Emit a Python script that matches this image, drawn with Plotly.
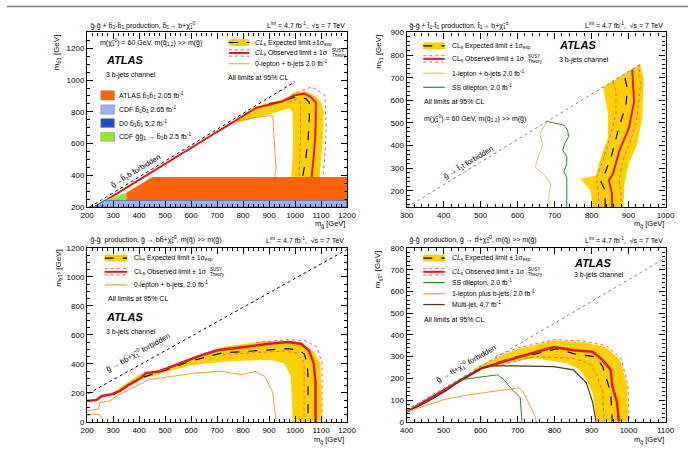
import plotly.graph_objects as go

W, H = 697, 449
FONT = "Liberation Sans"

# ---------------- data: panel 1 (sbottom) ----------------
p1_diag_x = [210, 1000]
p1_diag_y = [200, 990]
p1_obs_x = [230, 300, 400, 500, 600, 700, 770, 800, 850, 900, 950, 1000, 1035, 1060, 1080, 1080, 1078, 1072, 1066, 1063]
p1_obs_y = [200, 270, 370, 470, 570, 670, 740, 770, 825, 845, 865, 905, 915, 895, 860, 780, 650, 520, 420, 380]
p1_exp_x = [900, 950, 990, 1010, 1040, 1055, 1055, 1050, 1040, 1030, 1028]
p1_exp_y = [850, 868, 888, 895, 885, 860, 760, 620, 490, 400, 380]
p1_band_out_x = [770, 850, 900, 960, 1000, 1040, 1075, 1100, 1110, 1108, 1100, 1095]
p1_band_out_y = [745, 835, 857, 882, 925, 930, 905, 860, 800, 650, 500, 380]
p1_band_in_x = [770, 896, 978, 990, 992, 990, 985]
p1_band_in_y = [729, 781, 822, 800, 650, 500, 380]
p1_up_x = [985, 1010, 1065, 1115, 1120, 1115, 1107]
p1_up_y = [905, 926, 957, 905, 700, 520, 380]
p1_lo_x = [975, 1005, 1020, 1022, 1020, 1017, 1015]
p1_lo_y = [860, 880, 860, 750, 600, 470, 380]
p1_zl_x = [700, 770, 800, 850, 900, 915, 917, 920, 925, 927, 922, 925]
p1_zl_y = [668, 737, 750, 765, 775, 772, 700, 600, 480, 430, 405, 380]
p1_atlas_x = [351, 351, 451, 1200, 1200]
p1_atlas_y = [245, 290, 390, 390, 245]
p1_cdf_x = [225, 270, 1200, 1200]
p1_cdf_y = [200, 245, 245, 200]
p1_cdfgg_x = [270, 351, 351]
p1_cdfgg_y = [245, 245, 290]

# ---------------- data: panel 2 (stop) ----------------
p2_diag_x = [301, 935]
p2_diag_y = [128, 762]
p2_band_l_x = [803, 797, 769, 813, 822, 844, 844, 831, 932]
p2_band_l_y = [128, 203, 254, 268, 333, 434, 550, 658, 759]
p2_band_r_x = [941, 937, 923, 900, 889, 886]
p2_band_r_y = [694, 521, 405, 319, 232, 128]
p2_obs_x = [856, 855, 847, 858, 875, 901, 915, 910]
p2_obs_y = [128, 189, 247, 275, 377, 478, 593, 735]
p2_exp_x = [837, 836, 824, 832, 853, 871, 893, 897, 888]
p2_exp_y = [128, 203, 246, 261, 348, 463, 579, 651, 715]
p2_lo_x = [820, 818, 813, 832, 850, 866, 866, 858]
p2_lo_y = [128, 200, 258, 340, 440, 540, 640, 685]
p2_up_x = [881, 880, 874, 885, 906, 923, 932, 929]
p2_up_y = [128, 189, 247, 333, 420, 521, 666, 756]
p2_ol_x = [685, 685, 690, 672, 648, 655, 668, 660, 678]
p2_ol_y = [128, 180, 230, 270, 304, 350, 400, 450, 505]
p2_ss_x = [733, 733, 725, 733, 733, 722, 728, 738, 735, 725, 680]
p2_ss_y = [128, 260, 285, 320, 350, 380, 410, 440, 470, 490, 507]

# ---------------- data: panel 3 (gluino -> bb chi) ----------------
p3_diag_x = [205, 1200]
p3_diag_y = [195, 1190]
p3_obs_x = [200, 237, 256, 293, 325, 362, 407, 425, 476, 526, 576, 640, 702, 770, 846, 900, 972, 1022, 1053, 1072, 1079, 1079]
p3_obs_y = [144, 151, 178, 189, 212, 257, 302, 336, 347, 381, 415, 460, 494, 510, 528, 538, 550, 539, 494, 403, 268, 0]
p3_exp_x = [300, 400, 500, 600, 720, 846, 972, 1010, 1035, 1047, 1050, 1050]
p3_exp_y = [185, 300, 355, 420, 475, 490, 505, 495, 471, 403, 300, 0]
p3_band_out_x = [230, 300, 400, 500, 600, 720, 850, 948, 1022, 1072, 1098, 1104]
p3_band_out_y = [160, 205, 325, 372, 440, 516, 550, 562, 550, 483, 403, 0]
p3_band_in_x = [260, 340, 400, 500, 600, 720, 850, 909, 959, 984, 991]
p3_band_in_y = [165, 235, 290, 340, 390, 415, 425, 426, 403, 313, 0]
p3_up_x = [850, 959, 1035, 1085, 1104, 1104]
p3_up_y = [548, 566, 562, 516, 403, 0]
p3_lo_x = [720, 846, 960, 1005, 1030, 1035, 1035]
p3_lo_y = [465, 478, 488, 475, 430, 380, 0]
p3_zl_x = [199, 243, 249, 287, 325, 388, 438, 526, 614, 702, 720, 795, 846, 884, 915, 921, 928]
p3_zl_y = [76, 88, 133, 144, 189, 246, 291, 313, 336, 347, 347, 325, 347, 313, 200, 88, 0]
p3_zl2_x = [200, 215, 235, 250, 262, 268]
p3_zl2_y = [40, 50, 54, 45, 10, 0]

# ---------------- data: panel 4 (gluino -> tt chi) ----------------
p4_diag_x = [400, 1100]
p4_diag_y = [54, 754]
p4_obs_x = [400, 453, 505, 549, 602, 646, 690, 734, 760, 798, 851, 903, 930, 952, 956, 969, 974]
p4_obs_y = [45, 96, 149, 194, 246, 269, 292, 314, 326, 344, 329, 322, 284, 239, 164, 89, 0]
p4_exp_x = [600, 650, 700, 745, 807, 851, 877, 912, 930, 943, 952, 956]
p4_exp_y = [245, 275, 300, 311, 337, 314, 307, 299, 254, 179, 134, 0]
p4_band_out_x = [580, 600, 650, 700, 745, 798, 877, 938, 978, 996, 1000]
p4_band_out_y = [238, 262, 300, 335, 352, 374, 367, 344, 284, 164, 0]
p4_band_in_x = [580, 600, 650, 700, 745, 833, 868, 886, 903, 908, 912]
p4_band_in_y = [222, 240, 262, 282, 292, 269, 239, 194, 134, 74, 0]
p4_up_x = [640, 700, 745, 800, 877, 940, 980, 998, 1002]
p4_up_y = [300, 340, 357, 378, 372, 350, 290, 170, 0]
p4_lo_x = [640, 700, 745, 851, 894, 916, 930, 934]
p4_lo_y = [255, 280, 300, 292, 269, 209, 134, 0]
p4_mj_x = [400, 453, 505, 549, 602, 628, 690, 760, 798, 851, 886, 903, 912]
p4_mj_y = [46, 89, 141, 194, 246, 257, 257, 257, 254, 239, 179, 89, 0]
p4_ss_x = [549, 576, 646, 663, 681, 707, 712, 712]
p4_ss_y = [194, 201, 216, 194, 156, 111, 13, 0]
p4_ol_x = [400, 453, 505, 576, 646, 690, 703, 716, 734, 747, 751]
p4_ol_y = [46, 74, 104, 126, 141, 152, 156, 134, 74, 28, 0]

# ---------------- styles ----------------
YEL = "rgb(255,208,0)"
RED = "rgb(228,20,28)"
PINK = "rgb(240,90,110)"
ORA = "rgb(240,155,50)"
ORA2 = "rgb(245,185,100)"
GRN = "rgb(40,135,40)"
BRN = "rgb(85,50,30)"
ATL = "rgb(255,100,10)"
LBLUE = "rgb(150,180,240)"
DBLUE = "rgb(35,75,200)"
LGRN = "rgb(150,230,40)"

fig = go.Figure()


def line(x, y, ax, color, width=1.0, dash="solid"):
    fig.add_trace(go.Scatter(x=x, y=y, mode="lines", xaxis="x" + ax, yaxis="y" + ax,
                             line=dict(color=color, width=width, dash=dash),
                             hoverinfo="skip", showlegend=False))


def poly(x, y, ax, color, lcolor=None, lw=0):
    fig.add_trace(go.Scatter(x=x + [x[0]], y=y + [y[0]], mode="lines", fill="toself",
                             fillcolor=color, xaxis="x" + ax, yaxis="y" + ax,
                             line=dict(color=lcolor or color, width=lw),
                             hoverinfo="skip", showlegend=False))


# panel 1
poly(p1_band_out_x + p1_band_in_x[::-1], p1_band_out_y + p1_band_in_y[::-1], "", YEL)
line(p1_zl_x, p1_zl_y, "", ORA, 1.0)
line(p1_up_x, p1_up_y, "", PINK, 1.0, "dot")
line(p1_lo_x, p1_lo_y, "", PINK, 1.0, "dot")
line(p1_exp_x, p1_exp_y, "", "black", 1.2, "dash")
line(p1_obs_x, p1_obs_y, "", RED, 2.0)
line(p1_diag_x, p1_diag_y, "", "black", 1.0, "dot")
poly(p1_cdf_x, p1_cdf_y, "", LBLUE, DBLUE, 1.0)
poly(p1_cdfgg_x, p1_cdfgg_y, "", LGRN)
poly(p1_atlas_x, p1_atlas_y, "", ATL)

# panel 2
poly(p2_band_l_x + p2_band_r_x, p2_band_l_y + p2_band_r_y, "2", YEL)
line(p2_lo_x, p2_lo_y, "2", PINK, 1.0, "dot")
line(p2_up_x, p2_up_y, "2", PINK, 1.0, "dot")
line(p2_exp_x, p2_exp_y, "2", "black", 1.2, "dash")
line(p2_obs_x, p2_obs_y, "2", RED, 2.0)
line(p2_ol_x, p2_ol_y, "2", ORA2, 1.0)
line(p2_ss_x, p2_ss_y, "2", GRN, 1.0)
line(p2_diag_x, p2_diag_y, "2", "gray", 1.0, "dot")

# panel 3
poly(p3_band_out_x + p3_band_in_x[::-1], p3_band_out_y + p3_band_in_y[::-1], "3", YEL)
line(p3_up_x, p3_up_y, "3", PINK, 1.0, "dot")
line(p3_lo_x, p3_lo_y, "3", PINK, 1.0, "dot")
line(p3_exp_x, p3_exp_y, "3", "black", 1.2, "dash")
line(p3_obs_x, p3_obs_y, "3", RED, 2.5)
line(p3_zl_x, p3_zl_y, "3", ORA, 1.0)
line(p3_zl2_x, p3_zl2_y, "3", ORA, 1.0)
line(p3_diag_x, p3_diag_y, "3", "black", 1.0, "dot")

# panel 4
poly(p4_band_out_x + p4_band_in_x[::-1], p4_band_out_y + p4_band_in_y[::-1], "4", YEL)
line(p4_up_x, p4_up_y, "4", PINK, 1.0, "dot")
line(p4_lo_x, p4_lo_y, "4", PINK, 1.0, "dot")
line(p4_exp_x, p4_exp_y, "4", "black", 1.2, "dash")
line(p4_obs_x, p4_obs_y, "4", RED, 2.5)
line(p4_mj_x, p4_mj_y, "4", BRN, 1.2)
line(p4_ss_x, p4_ss_y, "4", GRN, 1.0)
line(p4_ol_x, p4_ol_y, "4", ORA, 1.0)
line(p4_diag_x, p4_diag_y, "4", "gray", 1.0, "dot")


def axis(dom, rng, dtick, minor, anchor):
    return dict(domain=dom, range=rng, dtick=dtick, tick0=0, anchor=anchor,
                showline=True, linecolor="black", linewidth=1.3, mirror="allticks",
                ticks="inside", ticklen=6, tickwidth=1, tickcolor="black",
                minor=dict(ticks="inside", ticklen=3, dtick=minor, tickcolor="black", tickwidth=1),
                showgrid=False, zeroline=False,
                tickfont=dict(family=FONT, size=8, color="black"))


def px(x):
    return x / W


def py(y):
    return 1 - y / H


XL = [px(82), px(348)]
XR = [px(409), px(674)]
YT = [py(207.3), py(29)]
YB = [py(426.3), py(249)]

layout = dict(
    width=W, height=H, margin=dict(l=0, r=0, t=0, b=0),
    paper_bgcolor="white", plot_bgcolor="white", showlegend=False,
    font=dict(family=FONT, size=7, color="black"),
    xaxis=axis(XL, [200, 1200], 100, 20, "y"),
    yaxis=axis(YT, [200, 1300], 200, 50, "x"),
    xaxis2=axis(XR, [300, 1000], 100, 20, "y2"),
    yaxis2=axis(YT, [128, 900], 100, 20, "x2"),
    xaxis3=axis(XL, [200, 1200], 100, 20, "y3"),
    yaxis3=axis(YB, [0, 1200], 200, 50, "x3"),
    xaxis4=axis(XR, [400, 1100], 100, 20, "y4"),
    yaxis4=axis(YB, [0, 800], 100, 20, "x4"),
)
fig.update_layout(**layout)

ann = []
shapes = []


def text(x, y, s, size=7, xanchor="left", yanchor="middle", angle=0, **kw):
    ann.append(dict(x=px(x), y=py(y), xref="paper", yref="paper", text=s, showarrow=False,
                    xanchor=xanchor, yanchor=yanchor, textangle=angle,
                    font=dict(family=FONT, size=size, color="black"), **kw))


def seg(x0, x1, y, color, width=1, dash="solid"):
    shapes.append(dict(type="line", xref="paper", yref="paper", x0=px(x0), x1=px(x1),
                       y0=py(y), y1=py(y), line=dict(color=color, width=width, dash=dash)))


def box(x0, x1, y0, y1, color, lcolor=None, lw=0):
    shapes.append(dict(type="rect", xref="paper", yref="paper", x0=px(x0), x1=px(x1),
                       y0=py(y1), y1=py(y0), fillcolor=color,
                       line=dict(color=lcolor or color, width=lw)))


def leg_exp(x0, x1, y):
    box(x0, x1, y - 3.5, y + 3.5, YEL)
    seg(x0, x1, y, "black", 1.2, "dash")


def leg_obs(x0, x1, y):
    seg(x0, x1, y - 3.2, PINK, 1, "dot")
    seg(x0, x1, y + 3.2, PINK, 1, "dot")
    seg(x0, x1, y, RED, 2)


def obs_text(x, y, italic=False, size=6.8):
    cl = "<i>CL</i>" if italic else "CL"
    text(x, y, cl + "<sub>s</sub> Observed limit \u00b1 1\u03c3", size=size)
    w = 11.5 * size
    text(x + w, y - 2.6, "SUSY", size=4.5)
    text(x + w, y + 2.6, "Theory", size=4.5)


g = "g\u0303"
b = "b\u0303"
t = "t\u0303"
q = "q\u0303"
chi = "\u03c7\u0303"
LUMI = "L<sup>int</sup> = 4.7 fb<sup>-1</sup>,  \u221as = 7 TeV"
EXP = "CL<sub>s</sub> Expected limit \u00b1 1\u03c3<sub>exp</sub>"
GEV_X = "m<sub>" + g + "</sub> [GeV]"
MCOND = "m(" + chi + "<sub>1</sub><sup>0</sup>) = 60 GeV, m(" + q + "<sub>1,2</sub>) >> m(" + g + ")"

# frame line at very top
shapes.append(dict(type="line", xref="paper", yref="paper", x0=0, x1=1, y0=py(2.5), y1=py(2.5),
                   line=dict(color="rgb(120,120,120)", width=1.5)))

# ---- panel 1 texts ----
text(83, 21.5, g + "-" + g + " + " + b + "<sub>1</sub>-" + b + "<sub>1</sub> production, " + b
     + "<sub>1</sub>\u2192 b+" + chi + "<sub>1</sub><sup>0</sup>")
text(348, 21.5, LUMI, xanchor="right")
text(52, 29, "m<sub>" + b + "1</sub> [GeV]", size=8, angle=-90, xanchor="center", yanchor="top")
text(348, 225, GEV_X, size=7.5, xanchor="right")
text(93, 39, MCOND)
text(99, 57, "<b><i>ATLAS</i></b>", size=11)
text(99, 72, "3 b-jets channel")
box(96, 110, 88.5, 98, ATL, "gray", 0.5)
text(113, 93, "ATLAS " + b + "<sub>1</sub>" + b + "<sub>1</sub> 2.05 fb<sup>-1</sup>")
box(96, 110, 103, 112.5, LBLUE, "gray", 0.5)
text(113, 107.5, "CDF " + b + "<sub>1</sub>" + b + "<sub>1</sub> 2.65 fb<sup>-1</sup>")
box(96, 110, 117, 126, DBLUE, "gray", 0.5)
text(113, 121.5, "D0 " + b + "<sub>1</sub>" + b + "<sub>1</sub> 5.2 fb<sup>-1</sup>")
box(96, 110, 131, 140, LGRN, "gray", 0.5)
text(113, 135.5, "CDF " + g + g + "<sub>1</sub> \u2192 " + b + "<sub>1</sub>b 2.5 fb<sup>-1</sup>")
leg_exp(227, 248, 39.3)
text(252, 39.3, "<i>CL</i><sub>s</sub> Expected limit \u00b11\u03c3<sub>exp</sub>", size=6.8)
leg_obs(227, 248, 50)
obs_text(252, 50, italic=True)
seg(227, 248, 61, ORA, 1)
text(252, 61, "0-lepton + b-jets 2.0 fb<sup>-1</sup>", size=6.8)
text(224, 75, "All limits at 95% CL")
text(132, 170, g + "\u2192" + b + "<sub>1</sub>b forbidden", size=7.5, xanchor="center", angle=-31)

# ---- panel 2 texts ----
text(409, 21.5, g + "-" + g + " + " + t + "<sub>1</sub>-" + t + "<sub>1</sub> production, " + t
     + "<sub>1</sub>\u2192 b+" + chi + "<sub>1</sub><sup>\u00b1</sup>")
text(673, 21.5, LUMI, xanchor="right")
text(381, 29, "m<sub>" + t + "1</sub> [GeV]", size=8, angle=-90, xanchor="center", yanchor="top")
text(674, 225, GEV_X, size=7.5, xanchor="right")
leg_exp(426, 448, 42.7)
text(453, 42.7, EXP, size=6.8)
leg_obs(426, 448, 56)
obs_text(453, 56)
seg(426, 448, 70.7, ORA2, 1.2)
text(453, 70.7, "1-lepton + b-jets 2.0 fb<sup>-1</sup>", size=6.8)
seg(426, 448, 85, GRN, 1.2)
text(453, 85, "SS dilepton, 2.0 fb<sup>-1</sup>", size=6.8)
text(424.7, 100, "All limits at 95% CL")
text(424.7, 117, MCOND)
text(563, 41.7, "<b><i>ATLAS</i></b>", size=11)
text(563, 57.3, "3 b-jets channel")
text(472, 162, g + " \u2192 " + t + "<sub>1</sub>t forbidden", size=7.5, xanchor="center", angle=-31)

# ---- panel 3 texts ----
text(83, 240.7, g + "-" + g + "  production, " + g + " \u2192 bb\u0304+" + chi
     + "<sub>1</sub><sup>0</sup>, m(" + q + ") >> m(" + g + ")")
text(347, 240.7, LUMI, xanchor="right")
text(53, 248, "m<sub>" + chi + "1<sup>0</sup></sub> [GeV]", size=8, angle=-90, xanchor="center", yanchor="top")
text(347, 444.5, GEV_X, size=7.5, xanchor="right")
leg_exp(100, 123, 259.3)
text(127.7, 259.3, EXP, size=6.8)
leg_obs(100, 123, 273.3)
obs_text(127.7, 273.3)
seg(100, 123, 286.7, ORA, 1.2)
text(127.7, 286.7, "0-lepton + b-jets, 2.0 fb<sup>-1</sup>", size=6.8)
text(101.7, 300.7, "All limits at 95% CL")
text(99.3, 319, "<b><i>ATLAS</i></b>", size=11)
text(99.3, 334.3, "3 b-jets channel")
text(134, 356, g + " \u2192 bb\u0304+" + chi + "<sub>1</sub><sup>0</sup> forbidden", size=7.5,
     xanchor="center", angle=-29)

# ---- panel 4 texts ----
text(409, 240.7, g + "-" + g + "  production, " + g + " \u2192 tt\u0304+" + chi
     + "<sub>1</sub><sup>0</sup>, m(" + q + ") >> m(" + g + ")")
text(673, 240.7, LUMI, xanchor="right")
text(380, 249, "m<sub>" + chi + "1<sup>0</sup></sub> [GeV]", size=8, angle=-90, xanchor="center", yanchor="top")
text(674.7, 444.5, GEV_X, size=7.5, xanchor="right")
leg_exp(426, 448, 259.3)
text(453, 259.3, "<i>CL</i><sub>s</sub> Expected limit \u00b1 1\u03c3<sub>exp</sub>", size=6.8)
leg_obs(426, 448, 273.3)
obs_text(453, 273.3, italic=True)
seg(426, 448, 284.3, GRN, 1.2)
text(453, 284.3, "SS dilepton, 2.0 fb<sup>-1</sup>", size=6.8)
seg(426, 448, 295.7, ORA, 1.2)
text(453, 295.7, "1-lepton plus b-jets, 2.0 fb<sup>-1</sup>", size=6.8)
seg(426, 448, 306.7, BRN, 1.2)
text(453, 306.7, "Multi-jet, 4.7 fb<sup>-1</sup>", size=6.8)
text(424.7, 322.3, "All limits at 95% CL")
text(578, 264.3, "<b><i>ATLAS</i></b>", size=11)
text(578, 276.7, "3 b-jets channel")
text(470, 367, g + " \u2192 tt\u0304+" + chi + "<sub>1</sub><sup>0</sup> forbidden", size=7.5,
     xanchor="center", angle=-30)

fig.update_layout(annotations=ann, shapes=shapes)
fig.write_html("out.html")
